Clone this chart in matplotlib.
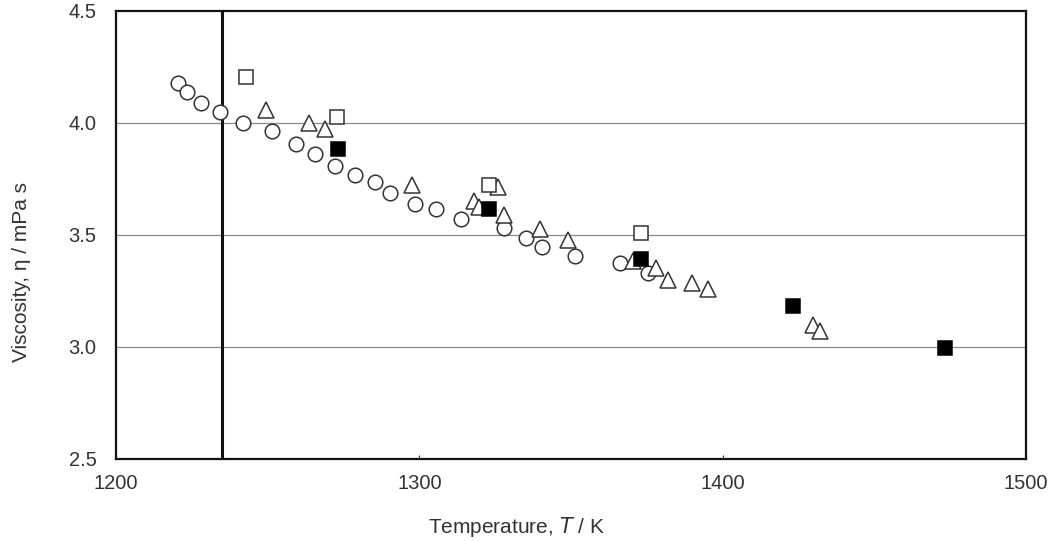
import matplotlib
matplotlib.use("Agg")
import matplotlib.pyplot as plt
import numpy as np

# liquid silver viscosity
circle_T = [1220.5, 1223.5, 1228.0, 1234.2, 1241.9, 1251.3, 1259.2, 1265.5, 1272.1,
            1278.7, 1285.3, 1290.2, 1298.5, 1305.4, 1313.8, 1327.9, 1335.0, 1340.5,
            1351.4, 1366.0, 1375.3]
circle_eta = [4.177, 4.137, 4.088, 4.048, 3.999, 3.966, 3.906, 3.862, 3.809,
              3.768, 3.738, 3.689, 3.638, 3.615, 3.571, 3.530, 3.488, 3.448,
              3.406, 3.374, 3.332]

tri_T = [1249.6, 1263.6, 1268.8, 1297.7, 1317.9, 1319.6, 1325.9, 1327.9, 1339.9,
         1348.9, 1370.3, 1378.0, 1382.1, 1389.9, 1395.0, 1429.8, 1432.0]
tri_eta = [4.058, 4.001, 3.972, 3.723, 3.653, 3.624, 3.713, 3.589, 3.527,
           3.478, 3.385, 3.351, 3.299, 3.287, 3.258, 3.098, 3.071]

open_sq_T = [1242.8, 1272.9, 1322.9, 1373.1]
open_sq_eta = [4.207, 4.025, 3.723, 3.508]

fill_sq_T = [1273.2, 1322.9, 1373.1, 1423.2, 1473.3]
fill_sq_eta = [3.884, 3.616, 3.392, 3.183, 2.997]

melting_T = 1234.9

plt.rcParams['font.family'] = ['Liberation Sans', 'DejaVu Sans']

W, H = 1053, 541
fig = plt.figure(figsize=(W / 100, H / 100), dpi=100)
ax = fig.add_axes([116 / W, (H - 459) / H, 910 / W, 448 / H])

ax.set_xlim(1200, 1500)
ax.set_ylim(2.5, 4.5)
ax.set_xticks([1200, 1300, 1400, 1500])
ax.set_yticks([2.5, 3.0, 3.5, 4.0, 4.5])
ax.set_yticklabels(["2.5", "3.0", "3.5", "4.0", "4.5"])
ax.tick_params(axis='both', labelsize=14.5, length=3, direction='in', colors='#333333')
ax.tick_params(axis='y', length=0, pad=14)
ax.tick_params(axis='x', pad=11)

for y in [3.0, 3.5, 4.0]:
    ax.axhline(y, color='#8a8a8a', lw=0.9, zorder=1)
for s in ax.spines.values():
    s.set_linewidth(1.6)
    s.set_color('#111111')

ax.axvline(melting_T, color='#111111', lw=2.2, zorder=2)

edge = '#333333'
ax.plot(circle_T, circle_eta, 'o', ms=10.5, mfc='white', mec=edge, mew=1.1, zorder=3)
ax.plot(tri_T, tri_eta, '^', ms=11.5, mfc='white', mec=edge, mew=1.1, zorder=4)
ax.plot(open_sq_T, open_sq_eta, 's', ms=10, mfc='white', mec=edge, mew=1.1, zorder=4)
ax.plot(fill_sq_T, fill_sq_eta, 's', ms=10, mfc='black', mec='black', mew=1.1, zorder=5)

fig.text(22 / W, 1 - 272 / H, "Viscosity, η / mPa s", rotation=90, ha='center', va='center',
         fontsize=15, color='#333333')
fig.text(516 / W, 1 - 533 / H, "Temperature, $\\it{T}$ / K", ha='center', va='baseline',
         fontsize=15, color='#333333')

fig.savefig("out.png", dpi=100)
